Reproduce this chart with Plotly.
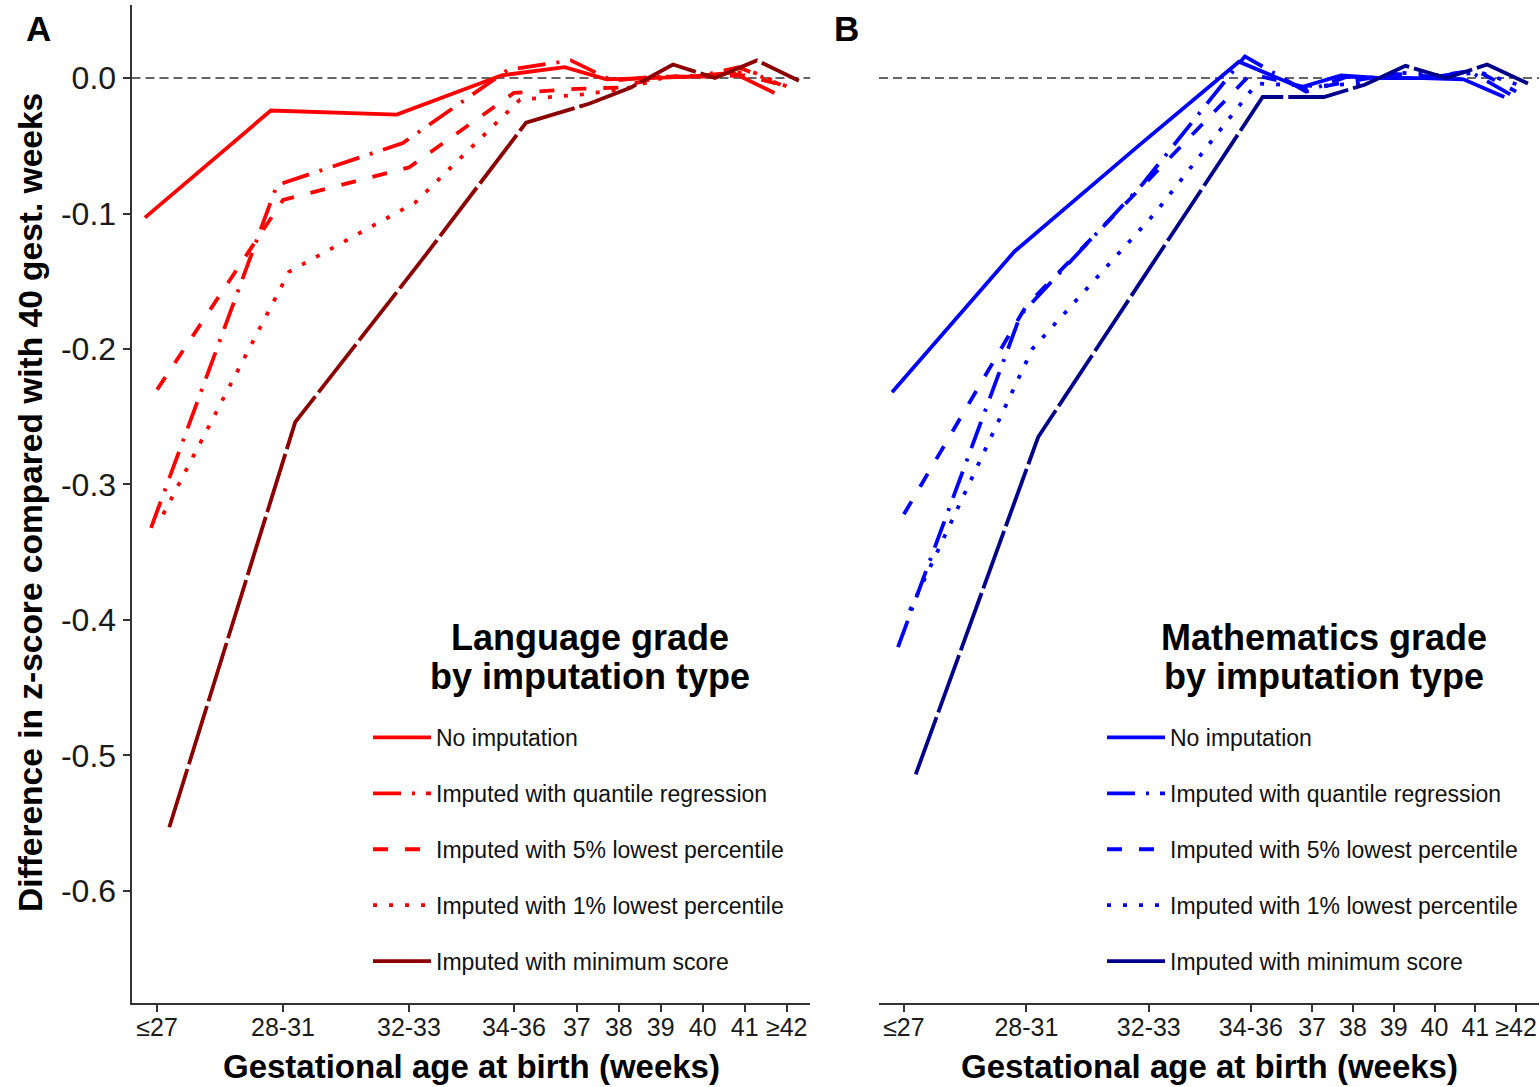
import plotly.graph_objects as go

# ---------------- data ----------------
categories = ["≤27", "28-31", "32-33", "34-36", "37", "38", "39", "40", "41", "≥42"]
series_names = [
    "No imputation",
    "Imputed with quantile regression",
    "Imputed with 5% lowest percentile",
    "Imputed with 1% lowest percentile",
    "Imputed with minimum score",
]

lang_no_imputation = [-0.103, -0.024, -0.027, 0.002, 0.008, -0.001, 0.000, 0.001, 0.004, -0.011]
lang_quantile      = [-0.332, -0.079, -0.048, 0.006, 0.013, -0.002, 0.001, 0.001, 0.008, -0.005]
lang_pct5          = [-0.230, -0.090, -0.066, -0.011, -0.008, -0.007, 0.001, 0.001, 0.002, -0.006]
lang_pct1          = [-0.322, -0.143, -0.092, -0.016, -0.012, -0.008, 0.001, 0.002, 0.005, -0.008]
lang_minimum       = [-0.553, -0.254, -0.135, -0.033, -0.019, -0.007, 0.010, 0.000, 0.013, -0.002]

math_no_imputation = [-0.232, -0.128, -0.051, 0.012, -0.007, 0.002, 0.000, 0.000, -0.001, -0.014]
math_quantile      = [-0.420, -0.175, -0.078, 0.016, -0.010, 0.001, 0.000, 0.000, 0.005, -0.012]
math_pct5          = [-0.322, -0.168, -0.075, 0.003, -0.008, -0.002, 0.003, 0.001, 0.006, -0.010]
math_pct1          = [-0.393, -0.200, -0.100, -0.004, -0.006, -0.004, 0.004, 0.002, 0.004, -0.006]
math_minimum       = [-0.514, -0.265, -0.128, -0.014, -0.014, -0.005, 0.009, 0.000, 0.010, -0.004]

y_ticks = [0.0, -0.1, -0.2, -0.3, -0.4, -0.5, -0.6]
y_ticklabels = ["0.0", "-0.1", "-0.2", "-0.3", "-0.4", "-0.5", "-0.6"]

legend_titles_lang = ["Language grade", "by imputation type"]
legend_titles_math = ["Mathematics grade", "by imputation type"]

# ---------------- scales / styles ----------------
cat_axis_pos = [27, 30, 33, 35.5, 37, 38, 39, 40, 41, 42]   # axis position of each category
dodge = [-0.29, -0.145, 0.0, 0.145, 0.29]                     # position_dodge offsets
dashes = ["solid", "28px,11px,3px,11px", "15px,17px", "4px,12px", "61px,5px"]
red_cols = ["#FF0000", "#FF0000", "#FF0000", "#FF0000", "#8B0000"]
blue_cols = ["#0000FF", "#0000FF", "#0000FF", "#0000FF", "#00008B"]
FONT = "Liberation Sans, Arial, sans-serif"
W, H = 1540, 1087

lang = [lang_no_imputation, lang_quantile, lang_pct5, lang_pct1, lang_minimum]
math = [math_no_imputation, math_quantile, math_pct5, math_pct1, math_minimum]

fig = go.Figure()

def add_panel(values, cols, xa, ya, leg, gprefix):
    for i, (name, vals) in enumerate(zip(series_names, values)):
        fig.add_trace(go.Scatter(
            x=[p + dodge[i] for p in cat_axis_pos], y=vals,
            mode="lines", name=name,
            line=dict(color=cols[i], width=3.8, dash=dashes[i]),
            xaxis=xa, yaxis=ya, legend=leg,
            legendgroup=f"{gprefix}{i}", showlegend=True,
            hoverinfo="x+y+name",
        ))

add_panel(lang, red_cols, "x", "y", "legend", "a")
add_panel(math, blue_cols, "x2", "y2", "legend2", "b")

xr = [26.39, 42.56]
yr = [-0.6827, 0.0539]
ydom = [1 - 1003 / H, 1 - 5 / H]

common_x = dict(
    range=xr, tickmode="array", tickvals=cat_axis_pos, ticktext=categories,
    ticks="outside", ticklen=7, tickwidth=1.5, tickcolor="#333333",
    showline=True, linecolor="#333333", linewidth=2,
    showgrid=False, zeroline=False, ticklabelstandoff=-6,
    tickfont=dict(family=FONT, size=25, color="#1a1a1a"),
)

legend_common = dict(
    xanchor="left", yanchor="top", y=1 - 716 / H,
    bgcolor="rgba(0,0,0,0)",
    font=dict(family=FONT, size=23, color="#111111"),
    tracegroupgap=23, itemwidth=58,
)

fig.update_layout(
    width=W, height=H,
    margin=dict(l=0, r=0, t=0, b=0),
    paper_bgcolor="white", plot_bgcolor="white",
    showlegend=True,
    xaxis=dict(domain=[131.5 / W, 810.2 / W], anchor="y", **common_x),
    xaxis2=dict(domain=[879 / W, 1539 / W], anchor="y2", **common_x),
    yaxis=dict(
        domain=ydom, range=yr, anchor="x",
        tickmode="array", tickvals=y_ticks, ticktext=y_ticklabels,
        ticks="outside", ticklen=7, tickwidth=1.5, tickcolor="#333333",
        showline=True, linecolor="#333333", linewidth=2,
        showgrid=False, zeroline=False,
        tickfont=dict(family=FONT, size=32, color="#1a1a1a"),
    ),
    yaxis2=dict(
        domain=ydom, range=yr, anchor="x2", matches="y",
        showticklabels=False, ticks="", showline=False,
        showgrid=False, zeroline=False,
    ),
    legend=dict(x=368 / W, **legend_common),
    legend2=dict(x=1102 / W, **legend_common),
)

# zero reference lines
for xref, yref in (("x domain", "y"), ("x2 domain", "y2")):
    fig.add_shape(type="line", xref=xref, yref=yref, x0=0, x1=1, y0=0, y1=0,
                  line=dict(color="#333333", width=1.5, dash="9px,5px"), layer="below")

# axis titles, legend titles and panel labels
annots = [
    dict(text="Difference in z-score compared with 40 gest. weeks", x=30 / W, y=1 - 503 / H,
         textangle=-90, size=33.5),
    dict(text="Gestational age at birth (weeks)", x=471 / W, y=1 - 1066 / H, textangle=0, size=33),
    dict(text="Gestational age at birth (weeks)", x=1209 / W, y=1 - 1066 / H, textangle=0, size=33),
    dict(text="A", x=38 / W, y=1 - 28 / H, textangle=0, size=35),
    dict(text="B", x=846 / W, y=1 - 28 / H, textangle=0, size=35),
    dict(text=legend_titles_lang[0], x=590 / W, y=1 - 637 / H, textangle=0, size=36),
    dict(text=legend_titles_lang[1], x=590 / W, y=1 - 676 / H, textangle=0, size=36),
    dict(text=legend_titles_math[0], x=1324 / W, y=1 - 637 / H, textangle=0, size=36),
    dict(text=legend_titles_math[1], x=1324 / W, y=1 - 676 / H, textangle=0, size=36),
]
for a in annots:
    fig.add_annotation(
        text=a["text"], x=a["x"], y=a["y"], xref="paper", yref="paper",
        xanchor="center", yanchor="middle", showarrow=False, textangle=a["textangle"],
        font=dict(family=FONT, size=a["size"], color="#000000", weight="bold"),
    )

fig.write_html("out.html")
